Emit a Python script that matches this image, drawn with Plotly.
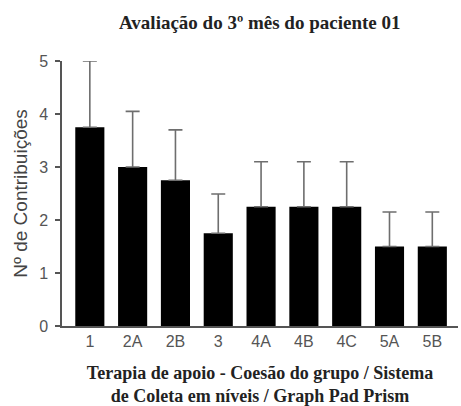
import plotly.graph_objects as go

# Mean number of contributions per session and their standard deviation
categories = ["1", "2A", "2B", "3", "4A", "4B", "4C", "5A", "5B"]
means = [3.75, 3.0, 2.75, 1.75, 2.25, 2.25, 2.25, 1.5, 1.5]
std_dev = [1.25, 1.05, 0.95, 0.74, 0.85, 0.85, 0.85, 0.65, 0.65]
y_ticks = [0, 1, 2, 3, 4, 5]

fig = go.Figure()
fig.add_trace(go.Bar(
    x=categories,
    y=means,
    marker=dict(color="black", line=dict(width=0)),
    width=0.68,
    error_y=dict(
        type="data",
        array=std_dev,
        arrayminus=[0] * len(std_dev),
        symmetric=False,
        color="#6e6e6e",
        thickness=1.6,
        width=7,
    ),
    cliponaxis=False,
))

fig.update_layout(
    width=461,
    height=406,
    margin=dict(l=62, r=3, t=61, b=80),
    paper_bgcolor="white",
    plot_bgcolor="white",
    showlegend=False,
    title=dict(
        text="<b>Avaliação do 3º mês do paciente 01</b>",
        font=dict(family="Liberation Serif", size=19, color="#222222"),
        x=0.5635,
        xanchor="center",
        y=0.945,
        yanchor="middle",
    ),
    xaxis=dict(
        range=[-0.65, 8.6],
        showline=True,
        linecolor="#555555",
        linewidth=1.5,
        ticks="",
        showgrid=False,
        tickfont=dict(family="Liberation Sans", size=16, color="#555555"),
        title=dict(
            text="<b>Terapia de apoio - Coesão do grupo / Sistema<br>de Coleta em níveis / Graph Pad Prism</b>",
            font=dict(family="Liberation Serif", size=18, color="#222222"),
            standoff=18,
        ),
    ),
    yaxis=dict(
        range=[0, 5],
        tickvals=y_ticks,
        showline=True,
        linecolor="#555555",
        linewidth=1.5,
        ticks="outside",
        ticklen=5,
        tickwidth=1.5,
        tickcolor="#555555",
        showgrid=False,
        zeroline=False,
        ticklabelstandoff=4,
        tickfont=dict(family="Liberation Sans", size=16, color="#555555"),
        title=dict(
            text="Nº de Contribuições",
            font=dict(family="Liberation Sans", size=19, color="#444444"),
            standoff=6,
        ),
    ),
)

fig.write_html("out.html")
